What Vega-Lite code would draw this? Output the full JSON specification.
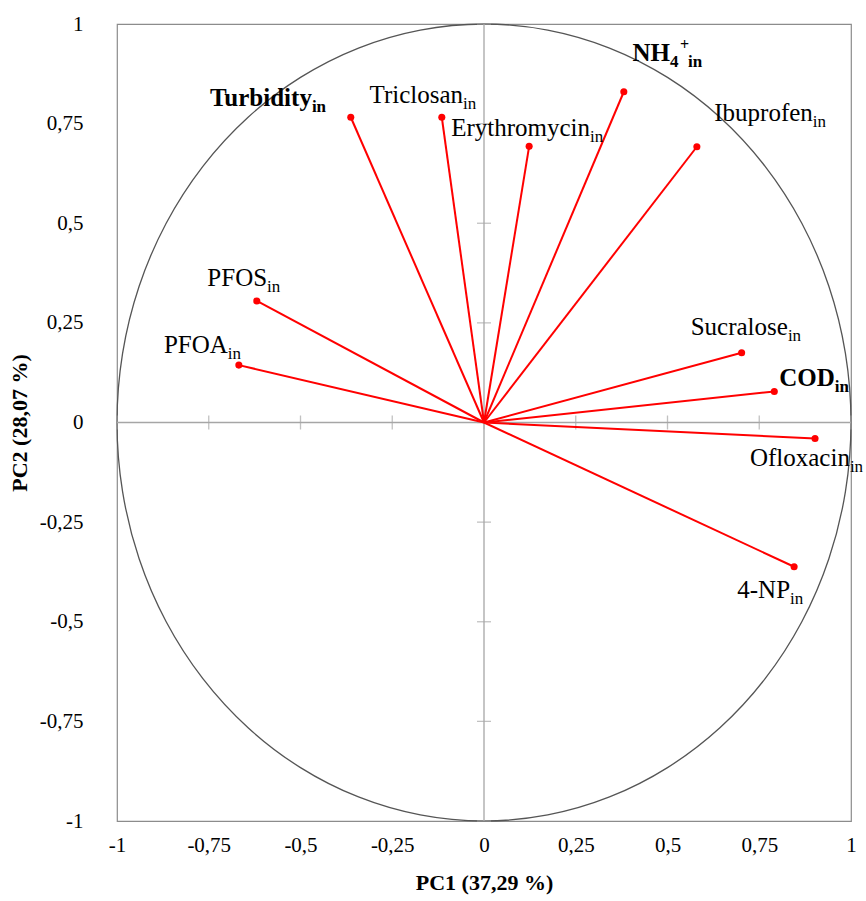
{
  "$schema": "https://vega.github.io/schema/vega-lite/v6.json",
  "width": 734,
  "height": 797,
  "autosize": {"type": "none"},
  "padding": {"left": 117, "top": 24, "right": 15, "bottom": 80},
  "background": "white",
  "config": {
    "view": {"stroke": "#8c8c8c", "strokeWidth": 1.2},
    "font": "Times New Roman, Liberation Serif, serif"
  },
  "datasets": {
    "vars": [
      {"label": "Turbidity", "sub": "in", "bold": true, "pc1": -0.363, "pc2": 0.766, "lx": -0.469, "ly": 0.814},
      {"label": "Triclosan", "sub": "in", "bold": false, "pc1": -0.115, "pc2": 0.766, "lx": -0.057, "ly": 0.822},
      {"label": "Erythromycin", "sub": "in", "bold": false, "pc1": 0.123, "pc2": 0.693, "lx": 0.289, "ly": 0.739},
      {"label": "NH", "sub": "4", "sup": "+", "sub2": "in", "bold": true, "pc1": 0.381, "pc2": 0.830, "lx": 0.507, "ly": 0.928},
      {"label": "Ibuprofen", "sub": "in", "bold": false, "pc1": 0.580, "pc2": 0.692, "lx": 0.896, "ly": 0.777},
      {"label": "PFOS", "sub": "in", "bold": false, "pc1": -0.619, "pc2": 0.305, "lx": -0.591, "ly": 0.363},
      {"label": "PFOA", "sub": "in", "bold": false, "pc1": -0.668, "pc2": 0.144, "lx": -0.698, "ly": 0.194},
      {"label": "Sucralose", "sub": "in", "bold": false, "pc1": 0.702, "pc2": 0.175, "lx": 0.828, "ly": 0.240},
      {"label": "COD", "sub": "in", "bold": true, "pc1": 0.791, "pc2": 0.078, "lx": 0.956, "ly": 0.112},
      {"label": "Ofloxacin", "sub": "in", "bold": false, "pc1": 0.902, "pc2": -0.040, "lx": 0.997, "ly": -0.089},
      {"label": "4-NP", "sub": "in", "bold": false, "pc1": 0.845, "pc2": -0.362, "lx": 0.834, "ly": -0.420}
    ],
    "circle": [
      {"a": 0, "cx": 1, "cy": 0},
      {"a": 10, "cx": 0.9848, "cy": 0.1736},
      {"a": 20, "cx": 0.9397, "cy": 0.342},
      {"a": 30, "cx": 0.866, "cy": 0.5},
      {"a": 40, "cx": 0.766, "cy": 0.6428},
      {"a": 50, "cx": 0.6428, "cy": 0.766},
      {"a": 60, "cx": 0.5, "cy": 0.866},
      {"a": 70, "cx": 0.342, "cy": 0.9397},
      {"a": 80, "cx": 0.1736, "cy": 0.9848},
      {"a": 90, "cx": 0, "cy": 1},
      {"a": 100, "cx": -0.1736, "cy": 0.9848},
      {"a": 110, "cx": -0.342, "cy": 0.9397},
      {"a": 120, "cx": -0.5, "cy": 0.866},
      {"a": 130, "cx": -0.6428, "cy": 0.766},
      {"a": 140, "cx": -0.766, "cy": 0.6428},
      {"a": 150, "cx": -0.866, "cy": 0.5},
      {"a": 160, "cx": -0.9397, "cy": 0.342},
      {"a": 170, "cx": -0.9848, "cy": 0.1736},
      {"a": 180, "cx": -1, "cy": 0},
      {"a": 190, "cx": -0.9848, "cy": -0.1736},
      {"a": 200, "cx": -0.9397, "cy": -0.342},
      {"a": 210, "cx": -0.866, "cy": -0.5},
      {"a": 220, "cx": -0.766, "cy": -0.6428},
      {"a": 230, "cx": -0.6428, "cy": -0.766},
      {"a": 240, "cx": -0.5, "cy": -0.866},
      {"a": 250, "cx": -0.342, "cy": -0.9397},
      {"a": 260, "cx": -0.1736, "cy": -0.9848},
      {"a": 270, "cx": 0, "cy": -1},
      {"a": 280, "cx": 0.1736, "cy": -0.9848},
      {"a": 290, "cx": 0.342, "cy": -0.9397},
      {"a": 300, "cx": 0.5, "cy": -0.866},
      {"a": 310, "cx": 0.6428, "cy": -0.766},
      {"a": 320, "cx": 0.766, "cy": -0.6428},
      {"a": 330, "cx": 0.866, "cy": -0.5},
      {"a": 340, "cx": 0.9397, "cy": -0.342},
      {"a": 350, "cx": 0.9848, "cy": -0.1736}
    ],
    "ticks": [
      {"t": -1, "z": 0}, {"t": -0.75, "z": 0}, {"t": -0.5, "z": 0}, {"t": -0.25, "z": 0}, {"t": 0, "z": 0},
      {"t": 0.25, "z": 0}, {"t": 0.5, "z": 0}, {"t": 0.75, "z": 0}, {"t": 1, "z": 0}
    ],
    "zero": [{"z": 0}]
  },
  "layer": [
    {
      "data": {"name": "circle"},
      "mark": {"type": "line", "interpolate": "cardinal-closed", "color": "#555555", "strokeWidth": 1.3},
      "encoding": {
        "x": {
          "field": "cx", "type": "quantitative",
          "scale": {"domain": [-1, 1], "nice": false, "zero": false},
          "axis": {
            "orient": "bottom",
            "values": [-1, -0.75, -0.5, -0.25, 0, 0.25, 0.5, 0.75, 1],
            "labelExpr": "replace(toString(datum.value), '.', ',')",
            "domain": false, "ticks": false, "grid": false,
            "labelFont": "Times New Roman, Liberation Serif, serif", "labelFontSize": 21, "labelColor": "#000000",
            "labelPadding": 13, "labelOverlap": false, "labelBound": false, "labelFlush": false,
            "title": "PC1 (37,29 %)",
            "titleFont": "Times New Roman, Liberation Serif, serif", "titleFontSize": 22, "titleFontWeight": "bold",
            "titleColor": "#000000", "titlePadding": 17
          }
        },
        "y": {
          "field": "cy", "type": "quantitative",
          "scale": {"domain": [-1, 1], "nice": false, "zero": false},
          "axis": {
            "orient": "left",
            "values": [-1, -0.75, -0.5, -0.25, 0, 0.25, 0.5, 0.75, 1],
            "labelExpr": "replace(toString(datum.value), '.', ',')",
            "domain": false, "ticks": false, "grid": false,
            "labelFont": "Times New Roman, Liberation Serif, serif", "labelFontSize": 21, "labelColor": "#000000",
            "labelPadding": 34, "labelOverlap": false, "labelBound": false, "labelFlush": false,
            "title": "PC2 (28,07 %)",
            "titleFont": "Times New Roman, Liberation Serif, serif", "titleFontSize": 22, "titleFontWeight": "bold",
            "titleColor": "#000000", "titlePadding": 8
          }
        },
        "order": {"field": "a", "type": "quantitative"}
      }
    },
    {
      "data": {"name": "zero"},
      "mark": {"type": "rule", "color": "#a6a6a6", "strokeWidth": 1.3},
      "encoding": {"x": {"field": "z", "type": "quantitative"}}
    },
    {
      "data": {"name": "zero"},
      "mark": {"type": "rule", "color": "#a6a6a6", "strokeWidth": 1.3},
      "encoding": {"y": {"field": "z", "type": "quantitative"}}
    },
    {
      "data": {"name": "ticks"},
      "mark": {"type": "tick", "orient": "vertical", "color": "#a6a6a6", "size": 14, "thickness": 1.3},
      "encoding": {
        "x": {"field": "t", "type": "quantitative"},
        "y": {"field": "z", "type": "quantitative"}
      }
    },
    {
      "data": {"name": "ticks"},
      "mark": {"type": "tick", "orient": "horizontal", "color": "#a6a6a6", "size": 14, "thickness": 1.3},
      "encoding": {
        "y": {"field": "t", "type": "quantitative"},
        "x": {"field": "z", "type": "quantitative"}
      }
    },
    {
      "data": {"name": "vars"},
      "mark": {"type": "rule", "color": "#ff0000", "strokeWidth": 2},
      "encoding": {
        "x": {"field": "pc1", "type": "quantitative"},
        "y": {"field": "pc2", "type": "quantitative"},
        "x2": {"datum": 0},
        "y2": {"datum": 0}
      }
    },
    {
      "data": {"name": "vars"},
      "mark": {"type": "point", "filled": true, "color": "#ff0000", "opacity": 1, "size": 50},
      "encoding": {
        "x": {"field": "pc1", "type": "quantitative"},
        "y": {"field": "pc2", "type": "quantitative"}
      }
    },
    {
      "data": {"name": "vars"},
      "transform": [{"filter": "!datum.bold"}],
      "mark": {"type": "text", "align": "right", "baseline": "middle", "font": "Times New Roman, Liberation Serif, serif", "fontSize": 25, "color": "#000000"},
      "encoding": {
        "x": {"field": "lx", "type": "quantitative"},
        "y": {"field": "ly", "type": "quantitative"},
        "text": {"field": "label"}
      }
    },
    {
      "data": {"name": "vars"},
      "transform": [{"filter": "datum.bold"}],
      "mark": {"type": "text", "align": "right", "baseline": "middle", "font": "Times New Roman, Liberation Serif, serif", "fontSize": 25, "fontWeight": "bold", "color": "#000000"},
      "encoding": {
        "x": {"field": "lx", "type": "quantitative"},
        "y": {"field": "ly", "type": "quantitative"},
        "text": {"field": "label"}
      }
    },
    {
      "data": {"name": "vars"},
      "transform": [{"filter": "!datum.bold"}],
      "mark": {"type": "text", "align": "left", "baseline": "middle", "dx": 0, "dy": 9, "font": "Times New Roman, Liberation Serif, serif", "fontSize": 17, "color": "#000000"},
      "encoding": {
        "x": {"field": "lx", "type": "quantitative"},
        "y": {"field": "ly", "type": "quantitative"},
        "text": {"field": "sub"}
      }
    },
    {
      "data": {"name": "vars"},
      "transform": [{"filter": "datum.bold"}],
      "mark": {"type": "text", "align": "left", "baseline": "middle", "dx": 0, "dy": 9, "font": "Times New Roman, Liberation Serif, serif", "fontSize": 17, "fontWeight": "bold", "color": "#000000"},
      "encoding": {
        "x": {"field": "lx", "type": "quantitative"},
        "y": {"field": "ly", "type": "quantitative"},
        "text": {"field": "sub"}
      }
    },
    {
      "data": {"name": "vars"},
      "transform": [{"filter": "datum.sup"}],
      "mark": {"type": "text", "align": "left", "baseline": "middle", "dx": 10, "dy": -8, "font": "Times New Roman, Liberation Serif, serif", "fontSize": 16, "fontWeight": "bold", "color": "#000000"},
      "encoding": {
        "x": {"field": "lx", "type": "quantitative"},
        "y": {"field": "ly", "type": "quantitative"},
        "text": {"field": "sup"}
      }
    },
    {
      "data": {"name": "vars"},
      "transform": [{"filter": "datum.sub2"}],
      "mark": {"type": "text", "align": "left", "baseline": "middle", "dx": 18, "dy": 9, "font": "Times New Roman, Liberation Serif, serif", "fontSize": 17, "fontWeight": "bold", "color": "#000000"},
      "encoding": {
        "x": {"field": "lx", "type": "quantitative"},
        "y": {"field": "ly", "type": "quantitative"},
        "text": {"field": "sub2"}
      }
    }
  ]
}
